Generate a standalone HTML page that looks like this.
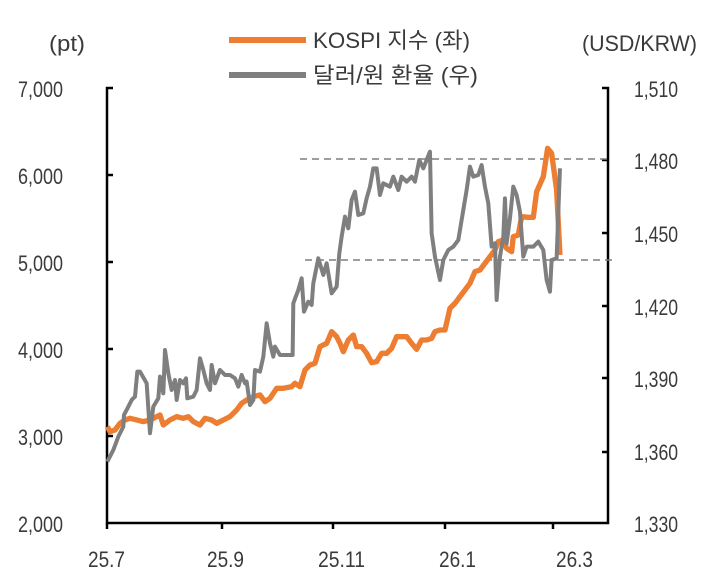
<!DOCTYPE html>
<html><head><meta charset="utf-8"><style>
html,body{margin:0;padding:0;background:#fff;}
svg text{font-family:"Liberation Sans","Noto Sans CJK KR",sans-serif;font-size:22px;fill:#3a3a3a;}
</style></head><body>
<svg width="709" height="582" viewBox="0 0 709 582" xmlns="http://www.w3.org/2000/svg">
<text x="49" y="51" textLength="36" lengthAdjust="spacingAndGlyphs">(pt)</text>
<text x="582" y="51" textLength="115" lengthAdjust="spacingAndGlyphs">(USD/KRW)</text>
<line x1="229" y1="40" x2="306" y2="40" stroke="#ed7d31" stroke-width="6"/>
<text x="313" y="48" textLength="157" lengthAdjust="spacingAndGlyphs">KOSPI 지수 (좌)</text>
<line x1="229" y1="75" x2="306" y2="75" stroke="#7f7f7f" stroke-width="6"/>
<text x="313" y="83" textLength="165" lengthAdjust="spacingAndGlyphs">달러/원 환율 (우)</text>
<g>
<text x="18" y="97" textLength="45" lengthAdjust="spacingAndGlyphs">7,000</text><text x="18" y="184" textLength="45" lengthAdjust="spacingAndGlyphs">6,000</text><text x="18" y="271" textLength="45" lengthAdjust="spacingAndGlyphs">5,000</text><text x="18" y="358" textLength="45" lengthAdjust="spacingAndGlyphs">4,000</text><text x="18" y="445" textLength="45" lengthAdjust="spacingAndGlyphs">3,000</text><text x="18" y="532" textLength="45" lengthAdjust="spacingAndGlyphs">2,000</text>
</g>
<g>
<text x="634" y="97" textLength="44" lengthAdjust="spacingAndGlyphs">1,510</text><text x="634" y="169" textLength="44" lengthAdjust="spacingAndGlyphs">1,480</text><text x="634" y="242" textLength="44" lengthAdjust="spacingAndGlyphs">1,450</text><text x="634" y="315" textLength="44" lengthAdjust="spacingAndGlyphs">1,420</text><text x="634" y="387" textLength="44" lengthAdjust="spacingAndGlyphs">1,390</text><text x="634" y="460" textLength="44" lengthAdjust="spacingAndGlyphs">1,360</text><text x="634" y="532" textLength="44" lengthAdjust="spacingAndGlyphs">1,330</text>
</g>
<g>
<text x="88" y="567" textLength="37" lengthAdjust="spacingAndGlyphs">25.7</text><text x="207" y="567" textLength="37" lengthAdjust="spacingAndGlyphs">25.9</text><text x="318" y="567" textLength="47" lengthAdjust="spacingAndGlyphs">25.11</text><text x="439" y="567" textLength="37" lengthAdjust="spacingAndGlyphs">26.1</text><text x="556" y="567" textLength="37" lengthAdjust="spacingAndGlyphs">26.3</text>
</g>
<g stroke="#000" stroke-width="2.5" fill="none">
<polyline points="113,88 107,88 107,523 608,523 608,88 602,88"/>
<line x1="107" y1="175" x2="113" y2="175"/><line x1="107" y1="262" x2="113" y2="262"/><line x1="107" y1="349" x2="113" y2="349"/><line x1="107" y1="436" x2="113" y2="436"/>
<line x1="608" y1="160" x2="602" y2="160"/><line x1="608" y1="233" x2="602" y2="233"/><line x1="608" y1="306" x2="602" y2="306"/><line x1="608" y1="378" x2="602" y2="378"/><line x1="608" y1="452" x2="602" y2="452"/>
<line x1="107" y1="523" x2="107" y2="529"/><line x1="222" y1="523" x2="222" y2="529"/><line x1="333" y1="523" x2="333" y2="529"/><line x1="445" y1="523" x2="445" y2="529"/><line x1="553" y1="523" x2="553" y2="529"/>
</g>
<g stroke="#7f7f7f" stroke-width="1.6" stroke-dasharray="7,5">
<line x1="300" y1="159" x2="610" y2="159"/><line x1="305" y1="260" x2="613" y2="260"/>
</g>
<g transform="translate(100,140) scale(0.3333)" fill="none" stroke-linejoin="round">
<polyline stroke="#ed7d31" stroke-width="16" points="22,860 30,875 45,870 60,850 75,840 90,835 110,840 130,845 150,840 170,830 180,825 190,855 210,840 230,830 250,835 265,830 280,845 300,855 315,835 335,840 350,850 370,840 390,830 410,810 425,790 440,780 460,770 480,765 495,785 510,775 530,745 550,745 575,740 585,730 600,740 615,690 630,675 645,670 660,620 680,610 695,575 710,590 720,610 730,635 745,600 760,585 770,620 785,620 800,640 815,668 830,665 845,640 860,640 875,625 890,590 905,590 920,590 935,610 950,628 965,600 980,600 995,595 1005,575 1020,570 1035,570 1050,505 1065,490 1080,470 1095,450 1110,430 1125,395 1140,390 1155,370 1170,350 1185,330 1195,305 1210,300 1220,325 1235,335 1240,290 1255,285 1265,230 1285,232 1300,232 1310,155 1330,110 1343,25 1355,40 1370,150 1380,345"/>
<polyline stroke="#7f7f7f" stroke-width="12" points="22,965 40,930 55,890 70,860 72,825 85,800 95,780 105,770 112,695 120,695 140,730 150,880 160,800 175,775 180,710 190,760 195,630 205,700 215,750 225,720 230,780 240,720 250,730 258,715 262,775 280,770 290,750 300,655 310,690 320,730 330,750 335,675 345,730 360,690 375,705 390,705 405,715 415,740 425,705 435,730 440,725 450,795 460,780 465,690 480,695 490,650 500,550 510,610 520,650 525,620 540,645 560,645 578,645 580,490 595,450 605,415 612,515 625,485 635,495 640,430 655,355 670,405 680,370 695,460 710,440 718,340 725,290 735,230 745,265 755,180 765,155 775,225 790,220 800,175 810,140 820,85 830,85 840,165 850,130 870,140 880,110 895,150 905,110 920,125 935,110 945,125 958,60 970,85 990,35 995,280 1005,350 1020,420 1030,360 1045,330 1060,320 1075,300 1085,240 1100,150 1110,80 1120,110 1135,105 1145,75 1155,140 1165,190 1175,320 1185,310 1190,480 1200,350 1210,290 1215,175 1220,310 1230,235 1240,140 1250,165 1260,215 1270,350 1280,320 1300,320 1315,305 1330,330 1340,420 1350,455 1355,360 1370,355 1380,85"/>
</g>
</svg>
</body></html>
